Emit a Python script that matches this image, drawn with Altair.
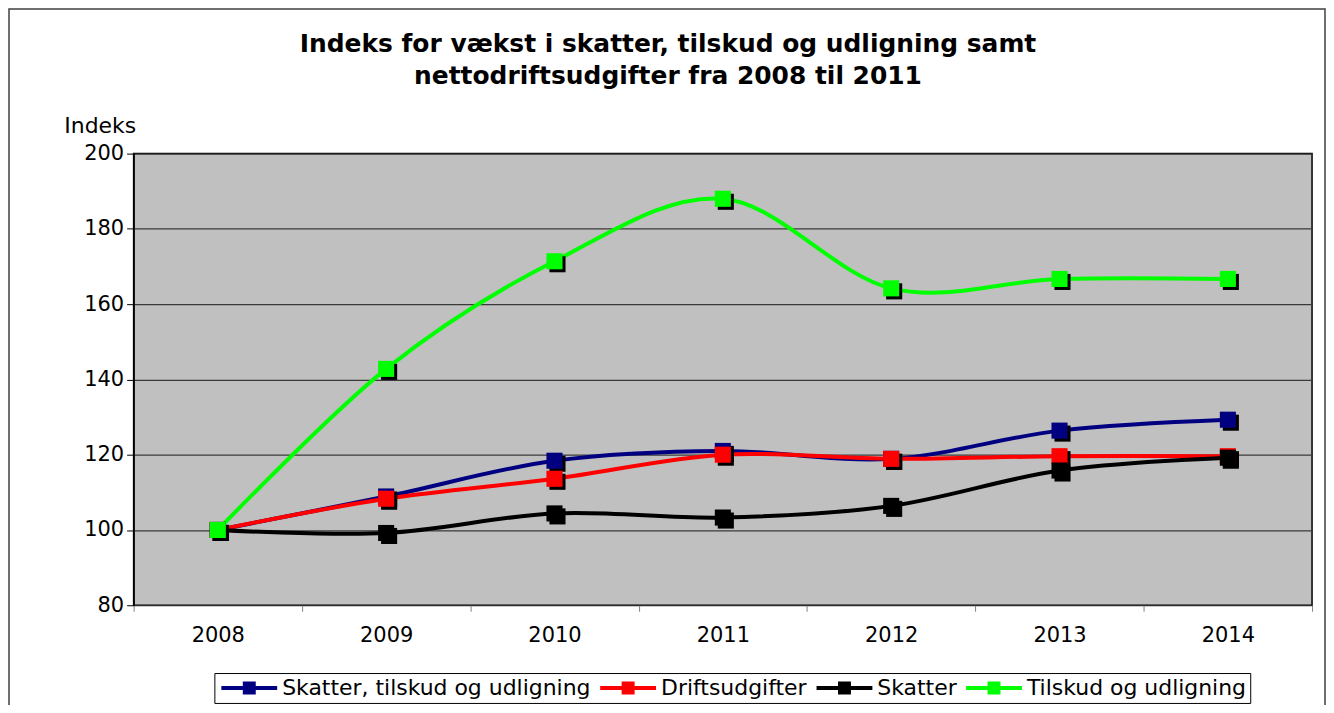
import altair as alt
import pandas as pd

years = ["2008", "2009", "2010", "2011", "2012", "2013", "2014"]
series_names = ["Skatter, tilskud og udligning", "Driftsudgifter", "Skatter", "Tilskud og udligning"]
colors = ["#000080", "#FF0000", "#000000", "#00FF00"]

skatter_tilskud = [100.0, 108.9, 118.4, 121.0, 118.9, 126.4, 129.3]
driftsudgifter = [100.0, 108.3, 113.6, 120.0, 118.9, 119.6, 119.6]
skatter = [100.0, 99.2, 104.4, 103.3, 106.4, 115.8, 119.2]
tilskud = [100.0, 142.8, 171.4, 188.0, 164.2, 166.7, 166.7]

values = [skatter_tilskud, driftsudgifter, skatter, tilskud]
rows = []
for name, vals in zip(series_names, values):
    for y, v in zip(years, vals):
        rows.append({"year": y, "value": v, "series": name})
df = pd.DataFrame(rows)

FONT = "DejaVu Sans"

x_enc = alt.X("year:N", sort=years, title=None,
              scale=alt.Scale(paddingInner=0, paddingOuter=0),
              axis=alt.Axis(tickBand="extent", labelAngle=0, labelFontSize=21, labelFont=FONT,
                            labelColor="black", tickColor="#808080", tickSize=6,
                            domain=False, labelPadding=13, grid=False))
y_enc = alt.Y("value:Q", title="Indeks",
              scale=alt.Scale(domain=[80, 200], nice=False, zero=False),
              axis=alt.Axis(values=[80, 100, 120, 140, 160, 180, 200], labelFontSize=21,
                            labelFont=FONT, labelColor="black", tickColor="black", tickSize=7,
                            labelPadding=3, domain=True, domainColor="black", domainWidth=1.5,
                            grid=True, gridColor="#3a3a3a", gridWidth=1.2,
                            titleAngle=0, titleFontSize=22, titleFont=FONT,
                            titleFontWeight="normal", titleColor="black",
                            titleX=-34, titleY=-28, titleAlign="center", titleBaseline="middle"))

color_enc = alt.Color("series:N", sort=series_names,
                      scale=alt.Scale(domain=series_names, range=colors),
                      legend=alt.Legend(
                          title=None, orient="none", legendX=81, legendY=521,
                          direction="horizontal", columns=4,
                          symbolType="M-5.6,-0.4H5.6V0.4H-5.6Z M-1.3,-1.3H1.3V1.3H-1.3Z",
                          symbolSize=100, symbolOffset=20, symbolStrokeWidth=0,
                          labelOffset=22, labelFontSize=22, labelFont=FONT, labelColor="black",
                          columnPadding=6, padding=4, strokeColor="black", fillColor="white",
                          labelLimit=400))

base = alt.Chart(df)

lines = base.mark_line(interpolate="cardinal", strokeWidth=4).encode(
    x=x_enc, y=y_enc, color=color_enc, order=alt.value(0))

shadow = base.mark_square(size=260, opacity=1, xOffset=3, yOffset=3, color="black").encode(
    x=alt.X("year:N", sort=years), y="value:Q", detail="series:N")

points = base.mark_square(size=260, opacity=1).encode(
    x=alt.X("year:N", sort=years), y="value:Q", color=color_enc)

frame = alt.Chart(pd.DataFrame({"f": [0]})).mark_rect(
    fill=None, stroke="#404040", strokeWidth=1.5).encode(
    x=alt.value(-125), x2=alt.value(1195), y=alt.value(-145), y2=alt.value(700))

chart = alt.layer(frame, lines, shadow, points).properties(
    width=1182, height=453,
    padding={"left": 126, "top": 145, "right": 14, "bottom": 99},
    autosize=alt.AutoSizeParams(type="none"),
    background="white",
    title=alt.TitleParams(
        text=["Indeks for vækst i skatter, tilskud og udligning samt",
              "nettodriftsudgifter fra 2008 til 2011"],
        fontSize=25, fontWeight="bold", font=FONT, color="black", frame="group",
        anchor="middle", dx=-55, offset=-101, lineHeight=32, baseline="alphabetic"),
).configure_view(fill="#C0C0C0", stroke="black", strokeWidth=1.5)

chart.save("out.html", embed_options={"renderer": "svg", "actions": False})
